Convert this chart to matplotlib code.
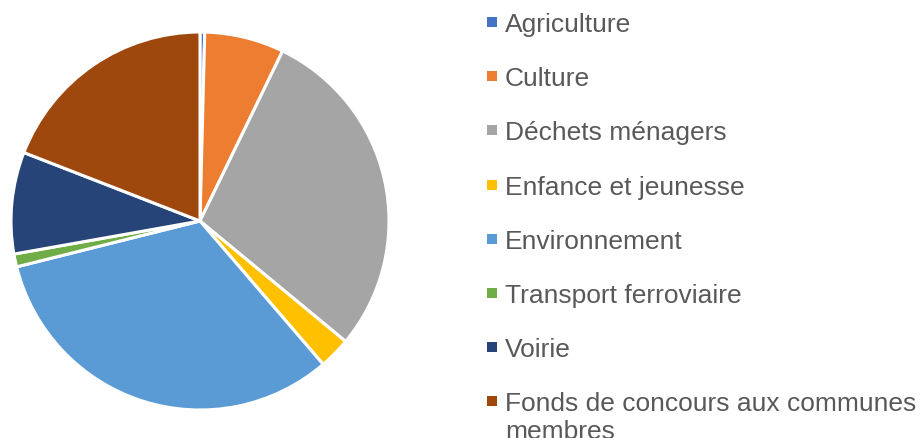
import matplotlib.pyplot as plt
from matplotlib.patches import Rectangle

plt.rcParams["font.family"] = ["Liberation Sans", "DejaVu Sans"]

# budget shares (%)
categories = [
    "Agriculture",
    "Culture",
    "Déchets ménagers",
    "Enfance et jeunesse",
    "Environnement",
    "Transport ferroviaire",
    "Voirie",
    "Fonds de concours aux communes\nmembres",
]
shares = [0.4, 6.8, 28.8, 2.7, 32.4, 1.1, 8.7, 19.1]
colors = ["#4472C4", "#ED7D31", "#A5A5A5", "#FFC000",
          "#5B9BD5", "#70AD47", "#264478", "#9E480E"]

W, H = 921, 439
fig = plt.figure(figsize=(W / 100, H / 100), dpi=100)

# pie: center (200, 222) px, radius 189 px
cx, cy, r = 200, 222, 189
ax = fig.add_axes([(cx - r) / W, (H - cy - r) / H, 2 * r / W, 2 * r / H])
ax.pie(shares, colors=colors, startangle=90, counterclock=False, radius=1,
       wedgeprops=dict(edgecolor="white", linewidth=2.2))
ax.set_xlim(-1, 1)
ax.set_ylim(-1, 1)
ax.set_aspect("equal")
ax.axis("off")

# legend drawn by hand (last label runs off the bottom, as in the original)
base0, step = 32, 54.2
for i, (lab, col) in enumerate(zip(categories, colors)):
    yb = base0 + i * step
    fig.patches.append(Rectangle((487 / W, 1 - (yb - 4) / H), 10 / W, 10 / H,
                                 transform=fig.transFigure, facecolor=col,
                                 edgecolor="none"))
    lines = lab.split("\n")
    for j, line in enumerate(lines):
        fig.text(505 / W, 1 - (yb + j * 28) / H, line, fontsize=19,
                 color="#595959", va="baseline", ha="left")

fig.savefig("out.png", dpi=100)
